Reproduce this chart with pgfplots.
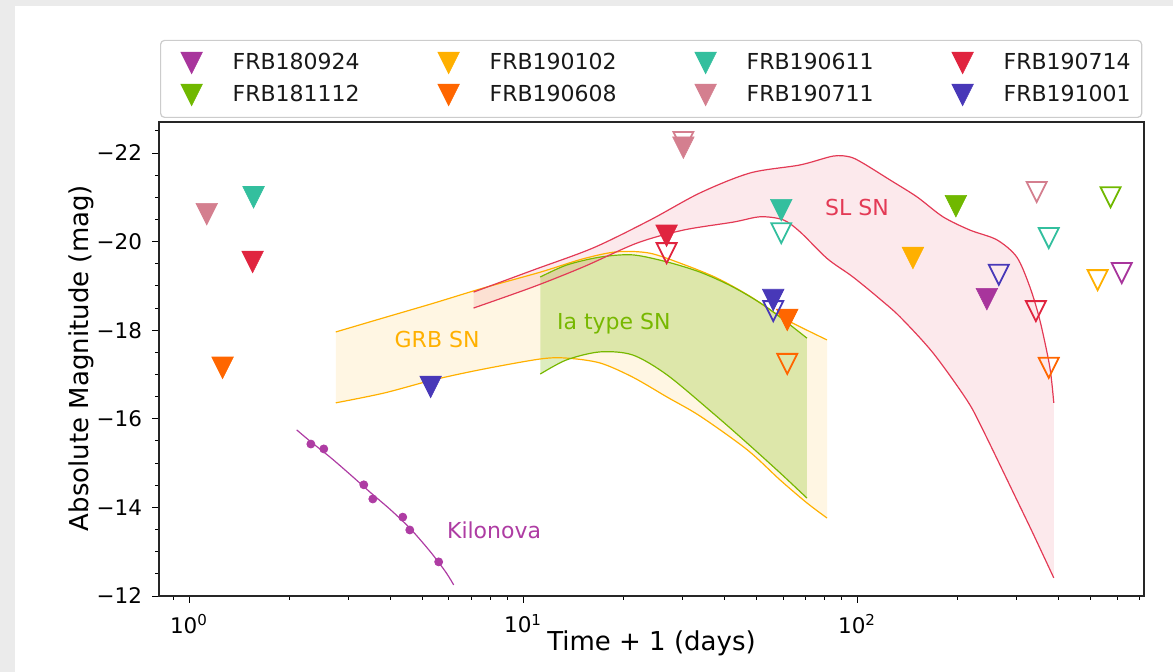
\documentclass[border=0pt]{standalone}
\usepackage{fontspec}
\setmainfont{DejaVu Sans}
\usepackage{pgfplots}
\pgfplotsset{compat=1.18}
\usepackage{pgfplotstable}
\usepgfplotslibrary{fillbetween}

\definecolor{c180924}{HTML}{A8359C}
\definecolor{c181112}{HTML}{70B800}
\definecolor{c190102}{HTML}{FFB000}
\definecolor{c190608}{HTML}{FF6600}
\definecolor{c190611}{HTML}{33BF9E}
\definecolor{c190711}{HTML}{D47F8F}
\definecolor{c190714}{HTML}{E0243F}
\definecolor{c191001}{HTML}{4838B8}
\definecolor{slsn}{HTML}{E33A55}
\definecolor{grb}{HTML}{FFB000}
\definecolor{ia}{HTML}{77B800}
\definecolor{kn}{HTML}{AE3CA3}
\definecolor{framegray}{HTML}{EBEBEB}

\pgfdeclareplotmark{tridown}{%
  \pgfpathmoveto{\pgfqpoint{0pt}{-\pgfplotmarksize}}%
  \pgfpathlineto{\pgfqpoint{-\pgfplotmarksize}{\pgfplotmarksize}}%
  \pgfpathlineto{\pgfqpoint{\pgfplotmarksize}{\pgfplotmarksize}}%
  \pgfpathclose
  \pgfusepathqfillstroke}
\pgfdeclareplotmark{tridownopen}{%
  \pgfpathmoveto{\pgfqpoint{0pt}{-\pgfplotmarksize}}%
  \pgfpathlineto{\pgfqpoint{-\pgfplotmarksize}{\pgfplotmarksize}}%
  \pgfpathlineto{\pgfqpoint{\pgfplotmarksize}{\pgfplotmarksize}}%
  \pgfpathclose
  \pgfusepathqstroke}

\pgfplotsset{
  fmark/.style={only marks, mark=tridown, mark size=5.4pt, color=#1,
    mark options={solid, sharp corners, line width=0.3pt, fill=#1, draw=#1}},
  omark/.style={only marks, mark=tridownopen, mark size=5.0pt, color=#1,
    mark options={solid, sharp corners, line width=0.9pt, draw=#1}, forget plot},
}

% ---- band data ----
\pgfplotstableread{
x y
2.75 -17.96
3.83 -18.28
5.40 -18.61
7.59 -18.95
11.26 -19.31
15.1 -19.61
19.1 -19.77
23.9 -19.74
30.1 -19.49
38.0 -19.18
47.7 -18.77
59.9 -18.28
81.3 -17.78
}\grbU
\pgfplotstableread{
x y
2.75 -16.36
3.83 -16.58
5.40 -16.88
7.59 -17.12
11.26 -17.35
13.5 -17.37
17.0 -17.26
21.3 -16.94
27.0 -16.49
33.9 -16.06
46.9 -15.30
58.8 -14.62
70.8 -14.10
81.3 -13.76
}\grbL
\pgfplotstableread{
x y
11.26 -19.20
13.5 -19.47
17.0 -19.65
21.3 -19.70
27.0 -19.54
33.9 -19.31
42.4 -18.98
53.6 -18.52
70.8 -17.82
}\iaU
\pgfplotstableread{
x y
11.26 -17.01
13.5 -17.33
17.0 -17.51
21.3 -17.44
27.0 -16.99
37.0 -16.13
46.9 -15.45
58.8 -14.78
70.8 -14.21
}\iaL
\pgfplotstableread{
x y
7.11 -18.86
10.75 -19.36
16.25 -19.86
24.06 -20.49
33.9 -21.10
47.9 -21.55
67.5 -21.73
84.8 -21.93
95.3 -21.91
104.2 -21.77
125.6 -21.39
151.1 -21.01
180.8 -20.56
217.7 -20.26
262.1 -20.04
300.8 -19.65
329 -18.98
352.5 -18.23
377.6 -17.17
388.1 -16.36
}\slU
\pgfplotstableread{
x y
7.11 -18.50
10.75 -18.98
15.17 -19.43
22.0 -19.97
30.2 -20.26
42.6 -20.44
51.3 -20.56
60.1 -20.49
67.5 -20.22
81.3 -19.62
95.3 -19.25
104.2 -19.02
117.2 -18.70
134.5 -18.30
168.7 -17.49
213.3 -16.42
238.1 -15.75
300.8 -14.17
335.9 -13.42
388.1 -12.41
}\slL
\pgfplotstableread{
x y
2.10 -15.75
2.316 -15.48
2.658 -15.12
3.05 -14.73
3.50 -14.33
4.02 -13.94
4.61 -13.51
5.29 -12.99
5.87 -12.54
6.2 -12.25
}\knLine
\pgfplotstableread{
x y
2.316 -15.43
2.532 -15.32
3.336 -14.51
3.55 -14.19
4.364 -13.78
4.58 -13.49
5.59 -12.77
}\knDots

\begin{document}
\begin{tikzpicture}
\fill[framegray] (0pt,333pt) rectangle (586.5pt,336pt);
\fill[framegray] (0pt,0pt) rectangle (7.5pt,336pt);
\begin{axis}[
  at={(79.5pt,38pt)}, anchor=south west,
  scale only axis, width=492.5pt, height=237pt,
  xmode=log, xmin=0.813, xmax=723,
  ymin=-22.7, ymax=-12, y dir=reverse,
  xtick={1,10,100},
  xticklabels={10\textsuperscript{0},10\textsuperscript{1},10\textsuperscript{2}},
  minor xtick={0.9,2,3,4,5,6,7,8,9,20,30,40,50,60,70,80,90,200,300,400,500,600,700},
  ytick={-22,-20,-18,-16,-14,-12},
  yticklabels={−22,−20,−18,−16,−14,−12},
  minor ytick={-22.5,-21.5,-21,-20.5,-19.5,-19,-18.5,-17.5,-17,-16.5,-15.5,-15,-14.5,-13.5,-13,-12.5},
  tick pos=left, tick align=outside,
  major tick length=3.5pt, minor tick length=2pt,
  every tick/.style={black, line width=0.45pt},
  tick label style={font=\fontsize{10.75}{12}\selectfont},
  xticklabel style={yshift=-2pt},
  yticklabel style={xshift=-1.5pt},
  axis line style={line width=0.7pt, black!85},
  xlabel={Time + 1 (days)}, ylabel={Absolute Magnitude (mag)},
  label style={font=\fontsize{13}{15}\selectfont},
  xlabel style={at={(axis description cs:0.5,-0.099)}, anchor=center},
  ylabel style={at={(axis description cs:-0.079,0.502)}, anchor=center},
  legend columns=4, legend cell align=left,
  legend image code/.code={%
    \path[draw=none, fill=none] (-10pt,-6pt) rectangle (6pt,6pt);
    \draw[#1, sharp corners] plot coordinates {(0pt,0pt)};},
  legend style={at={(axis description cs:0,1)}, anchor=south west,
    xshift=0.5pt, yshift=2pt,
    draw=black!20, line width=0.6pt, rounded corners=2pt,
    inner xsep=5.5pt, inner ysep=5.25pt, row sep=4pt,
    font=\fontsize{11}{13}\selectfont, text=black!90,
    nodes={inner sep=0pt},
    /tikz/every odd column/.append style={column sep=14.5pt},
    /tikz/every even column/.append style={column sep=34.5pt}},
]
% invisible paths for bands
\addplot[draw=none, smooth, name path=gU, forget plot] table {\grbU};
\addplot[draw=none, smooth, name path=gL, forget plot] table {\grbL};
\addplot[draw=none, smooth, name path=iU, forget plot] table {\iaU};
\addplot[draw=none, smooth, name path=iL, forget plot] table {\iaL};
\addplot[draw=none, smooth, name path=sU, forget plot] table {\slU};
\addplot[draw=none, smooth, name path=sL, forget plot] table {\slL};
% fills
\addplot[fill=grb, fill opacity=0.11, draw=none, forget plot] fill between[of=gU and gL];
\addplot[fill=ia, fill opacity=0.25, draw=none, forget plot] fill between[of=iU and iL];
\addplot[fill=slsn, fill opacity=0.11, draw=none, forget plot] fill between[of=sU and sL];
% lines
\addplot[grb, line width=0.6pt, smooth, forget plot] table {\grbU};
\addplot[grb, line width=0.6pt, smooth, forget plot] table {\grbL};
\addplot[ia, line width=0.6pt, smooth, forget plot] table {\iaU};
\addplot[ia, line width=0.6pt, smooth, forget plot] table {\iaL};
\addplot[slsn, line width=0.6pt, smooth, forget plot] table {\slU};
\addplot[slsn, line width=0.6pt, smooth, forget plot] table {\slL};
% kilonova
\addplot[kn, line width=0.6pt, smooth, forget plot] table {\knLine};
\addplot[kn, only marks, mark=*, mark size=2pt, forget plot] table {\knDots};
% annotations
\node[text=slsn, font=\fontsize{11}{13}\selectfont] at (axis cs:100,-20.76) {SL SN};
\node[text=grb, font=\fontsize{11}{13}\selectfont] at (axis cs:5.53,-17.80) {GRB SN};
\node[text=ia, font=\fontsize{11}{13}\selectfont] at (axis cs:18.7,-18.14) {Ia type SN};
\node[text=kn, font=\fontsize{11}{13}\selectfont] at (axis cs:8.19,-13.49) {Kilonova};
% open markers
\addplot[omark=c180924] coordinates {(620,-19.29)};
\addplot[omark=c181112] coordinates {(574,-21.0)};
\addplot[omark=c190102] coordinates {(525,-19.13)};
\addplot[omark=c190608] coordinates {(61.8,-17.24) (375,-17.15)};
\addplot[omark=c190611] coordinates {(59.3,-20.19) (375,-20.08)};
\addplot[omark=c190711] coordinates {(345,-21.12)};
\addplot[omark=c190714] coordinates {(26.9,-19.74) (343,-18.43)};
\addplot[omark=c191001] coordinates {(265.7,-19.25)};
% filled markers (legend, row-major order)
\addplot[fmark=c180924] coordinates {(244.7,-18.70)};
\addlegendentry{FRB180924}
\addplot[fmark=c190102] coordinates {(147,-19.63)};
\addlegendentry{FRB190102}
\addplot[fmark=c190611] coordinates {(1.56,-21.0) (59.3,-20.71)};
\addlegendentry{FRB190611}
\addplot[fmark=c190714] coordinates {(1.55,-19.54) (26.9,-20.13)};
\addlegendentry{FRB190714}
\addplot[fmark=c181112] coordinates {(197.7,-20.80)};
\addlegendentry{FRB181112}
\addplot[fmark=c190608] coordinates {(1.26,-17.15) (61.8,-18.23)};
\addlegendentry{FRB190608}
\addplot[fmark=c190711] coordinates {(1.13,-20.62) (30.2,-22.12)};
\addlegendentry{FRB190711}
\addplot[fmark=c191001] coordinates {(5.29,-16.72) (56.1,-18.68)};
\addlegendentry{FRB191001}
% open markers drawn over filled ones at same epochs
\addplot[omark=c190711] coordinates {(30.2,-22.25)};
\addplot[omark=c191001] coordinates {(56.1,-18.43)};
\end{axis}
\end{tikzpicture}
\end{document}
